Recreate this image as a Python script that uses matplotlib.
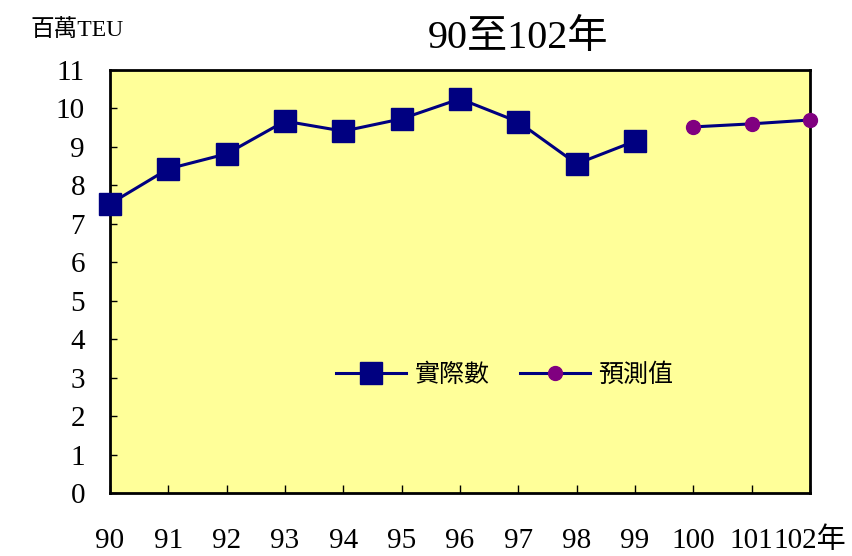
import matplotlib
matplotlib.use("Agg")
import matplotlib.pyplot as plt

plt.rcParams['font.family'] = ['Liberation Serif', 'Noto Sans CJK TC']

years = ['90', '91', '92', '93', '94', '95', '96', '97', '98', '99', '100', '101', '102年']
actual_idx = [0, 1, 2, 3, 4, 5, 6, 7, 8, 9]
actual = [7.52, 8.43, 8.82, 9.67, 9.41, 9.73, 10.25, 9.65, 8.56, 9.15]
forecast_idx = [10, 11, 12]
forecast = [9.52, 9.60, 9.70]
yticks = list(range(0, 12))

fig = plt.figure(figsize=(8.52, 5.56), dpi=100)
ax = fig.add_axes([110/852, 63/556, 700/852, 423/556])
ax.set_facecolor('#FFFF99')

ax.plot(actual_idx, actual, color='#000080', lw=2.2, marker='s', ms=16,
        mfc='#000080', mec='#000080', label='實際數', clip_on=False, zorder=3)
ax.plot(forecast_idx, forecast, color='#000080', lw=2.2, marker='o', ms=10,
        mfc='#800080', mec='#800080', label='預測值', clip_on=False, zorder=3)

ax.set_xlim(0, 12)
ax.set_ylim(0, 11)
ax.set_xticks(range(len(years)))
ax.set_xticklabels(years, fontsize=21)
ax.set_yticks(yticks)
ax.set_yticklabels([str(v) for v in yticks], fontsize=21)
ax.tick_params(axis='x', direction='in', length=6, width=1, pad=25)
ax.tick_params(axis='y', direction='in', length=5, width=1, pad=18)
for s in ax.spines.values():
    s.set_linewidth(2)
    s.set_color('black')

leg = ax.legend(loc='center', bbox_to_anchor=(0.564, 0.28), ncol=2, frameon=False,
                prop={'family': ['Noto Sans CJK TC'], 'size': 18},
                handlelength=2.8, handletextpad=0.35, columnspacing=1.2)

fig.text(518/852, 1 - 38/556, '90至102年', fontsize=29, ha='center', va='center')
fig.text(30/852, 1 - 30/556, '百萬TEU', fontsize=17, ha='left', va='center')

fig.savefig('out.png', dpi=100)
